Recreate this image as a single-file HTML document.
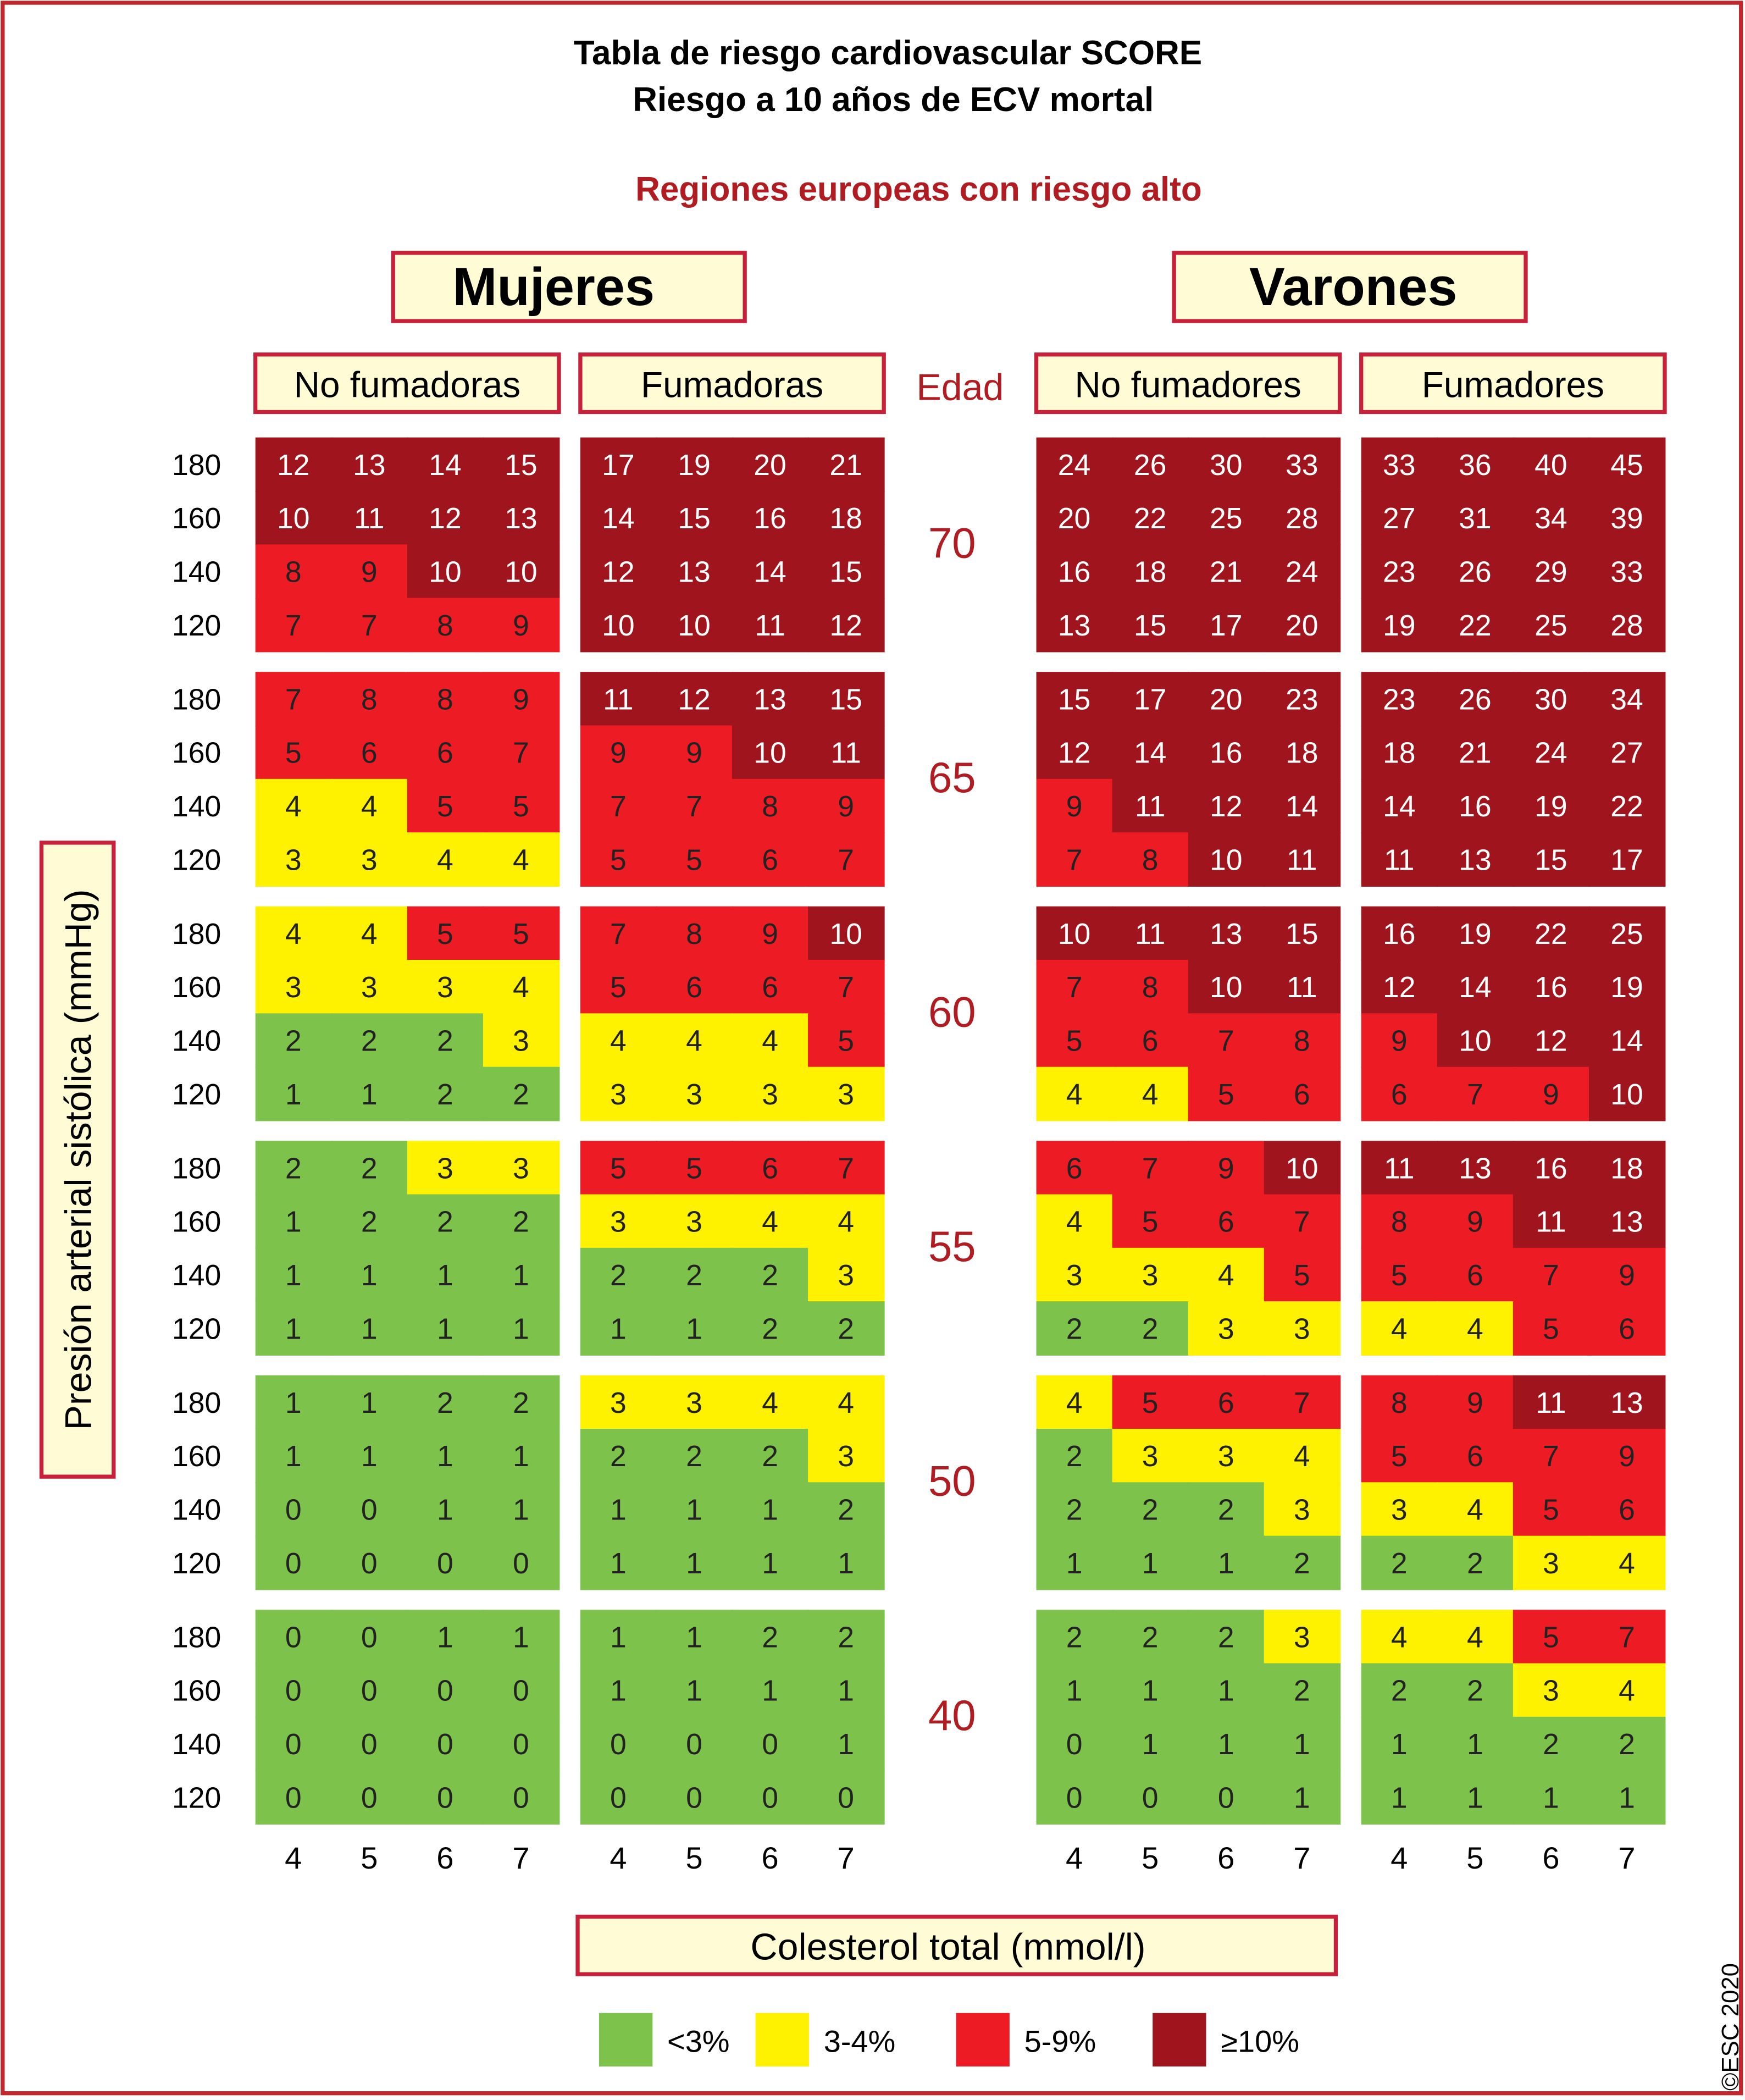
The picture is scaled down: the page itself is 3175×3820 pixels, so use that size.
<!DOCTYPE html>
<html><head><meta charset="utf-8"><style>
html,body{margin:0;padding:0;background:#fff;}
svg{display:block;}
text{font-family:"Liberation Sans","DejaVu Sans",sans-serif;}
</style></head><body>
<svg id="chart" width="3175" height="3820" viewBox="0 0 1305 1570" xmlns="http://www.w3.org/2000/svg">
<rect x="2" y="2" width="1300" height="1563" fill="#fff" stroke="#c0272d" stroke-width="3"/>
<text x="664" y="48" font-size="25.5" font-weight="bold" text-anchor="middle">Tabla de riesgo cardiovascular SCORE</text>
<text x="668" y="83" font-size="25.5" font-weight="bold" text-anchor="middle">Riesgo a 10 años de ECV mortal</text>
<text x="687" y="150" font-size="25.5" font-weight="bold" fill="#b01c22" text-anchor="middle">Regiones europeas con riesgo alto</text>
<rect x="294" y="189" width="263" height="51" fill="#fffbd5" stroke="#c8203a" stroke-width="3"/>
<text x="414" y="228" font-size="40" font-weight="bold" text-anchor="middle">Mujeres</text>
<rect x="878" y="189" width="263" height="51" fill="#fffbd5" stroke="#c8203a" stroke-width="3"/>
<text x="1012" y="228" font-size="40" font-weight="bold" text-anchor="middle">Varones</text>
<text x="718" y="299" font-size="28" fill="#b01c22" text-anchor="middle">Edad</text>
<rect x="31" y="630" width="54" height="474" fill="#fffbd5" stroke="#c8203a" stroke-width="3"/>
<text transform="translate(68,867) rotate(-90)" font-size="28" text-anchor="middle">Presión arterial sistólica (mmHg)</text>
<rect x="432" y="1433" width="567" height="43" fill="#fffbd5" stroke="#c8203a" stroke-width="3"/>
<text x="709" y="1465" font-size="28" text-anchor="middle">Colesterol total (mmol/l)</text>
<text transform="translate(1300,1563) rotate(-90)" font-size="18">©ESC 2020</text>
<g id="grid"></g>
</svg>
<script>
const ages=[70,65,60,55,50,40];
const sbpLabels=[180,160,140,120];
const cholLabels=[4,5,6,7];
const groupNames=["No fumadoras","Fumadoras","No fumadores","Fumadores"];
const womenNonSmoker=[
[[12,13,14,15],[10,11,12,13],[8,9,10,10],[7,7,8,9]],
[[7,8,8,9],[5,6,6,7],[4,4,5,5],[3,3,4,4]],
[[4,4,5,5],[3,3,3,4],[2,2,2,3],[1,1,2,2]],
[[2,2,3,3],[1,2,2,2],[1,1,1,1],[1,1,1,1]],
[[1,1,2,2],[1,1,1,1],[0,0,1,1],[0,0,0,0]],
[[0,0,1,1],[0,0,0,0],[0,0,0,0],[0,0,0,0]]];
const womenSmoker=[
[[17,19,20,21],[14,15,16,18],[12,13,14,15],[10,10,11,12]],
[[11,12,13,15],[9,9,10,11],[7,7,8,9],[5,5,6,7]],
[[7,8,9,10],[5,6,6,7],[4,4,4,5],[3,3,3,3]],
[[5,5,6,7],[3,3,4,4],[2,2,2,3],[1,1,2,2]],
[[3,3,4,4],[2,2,2,3],[1,1,1,2],[1,1,1,1]],
[[1,1,2,2],[1,1,1,1],[0,0,0,1],[0,0,0,0]]];
const menNonSmoker=[
[[24,26,30,33],[20,22,25,28],[16,18,21,24],[13,15,17,20]],
[[15,17,20,23],[12,14,16,18],[9,11,12,14],[7,8,10,11]],
[[10,11,13,15],[7,8,10,11],[5,6,7,8],[4,4,5,6]],
[[6,7,9,10],[4,5,6,7],[3,3,4,5],[2,2,3,3]],
[[4,5,6,7],[2,3,3,4],[2,2,2,3],[1,1,1,2]],
[[2,2,2,3],[1,1,1,2],[0,1,1,1],[0,0,0,1]]];
const menSmoker=[
[[33,36,40,45],[27,31,34,39],[23,26,29,33],[19,22,25,28]],
[[23,26,30,34],[18,21,24,27],[14,16,19,22],[11,13,15,17]],
[[16,19,22,25],[12,14,16,19],[9,10,12,14],[6,7,9,10]],
[[11,13,16,18],[8,9,11,13],[5,6,7,9],[4,4,5,6]],
[[8,9,11,13],[5,6,7,9],[3,4,5,6],[2,2,3,4]],
[[4,4,5,7],[2,2,3,4],[1,1,2,2],[1,1,1,1]]];
const legendLabels=["<3%","3-4%","5-9%","≥10%"];
const legendColors=["#7dc24b","#fff200","#ed1c24","#a0141e"];

const NS="http://www.w3.org/2000/svg";
const g=document.getElementById('grid');
const groups=[womenNonSmoker,womenSmoker,menNonSmoker,menSmoker];
const groupX=[191,434,775,1018];
const cellW=56.75, cellH=40, blockTop=327, blockStep=175.3;
function colX(gi,ci){return groupX[gi]+ci*cellW;}
function rowY(ai,ri){return blockTop+ai*blockStep+ri*cellH;}
function colorFor(v){return v<3?legendColors[0]:v<5?legendColors[1]:v<10?legendColors[2]:legendColors[3];}
function mk(tag,attrs,txt){const e=document.createElementNS(NS,tag);for(const k in attrs)e.setAttribute(k,attrs[k]);if(txt!==undefined)e.textContent=txt;g.appendChild(e);return e;}

groupNames.forEach((n,gi)=>{
  const b=mk('rect',{x:groupX[gi],y:265,width:227,height:43,fill:'#fffbd5',stroke:'#c8203a','stroke-width':3});
  
  
  const t=mk('text',{x:groupX[gi]+113.5,y:297,'font-size':27,'text-anchor':'middle'},n);
  
  
  cholLabels.forEach((c,ci)=>{
    const tl=mk('text',{x:colX(gi,ci)+cellW/2,y:1397,'font-size':23,'text-anchor':'middle'},c);
    
    
  });
});
ages.forEach((age,ai)=>{
  const at=mk('text',{x:712,y:rowY(ai,2)+10,'font-size':32,fill:'#b01c22','text-anchor':'middle'},age);
  
  
  sbpLabels.forEach((s,ri)=>{
    const st=mk('text',{x:147,y:rowY(ai,ri)+28,'font-size':22,'text-anchor':'middle'},s);
    
    
  });
  groups.forEach((data,gi)=>{
    data[ai].forEach((row,ri)=>{
      row.forEach((v,ci)=>{
        const r=mk('rect',{x:colX(gi,ci),y:rowY(ai,ri),width:cellW+0.6,height:cellH+0.6,fill:colorFor(v)});
        
        
        const t=mk('text',{x:colX(gi,ci)+cellW/2,y:rowY(ai,ri)+28,'font-size':22,'text-anchor':'middle',fill:v>=10?'#fff':'#222'},v);
        
        
      });
    });
  });
});
const legX=[448,565,715,862];
legendLabels.forEach((l,i)=>{
  const r=mk('rect',{x:legX[i],y:1505,width:40,height:40,fill:legendColors[i]});
  
  
  const t=mk('text',{x:legX[i]+51,y:1534,'font-size':23},l);
  
  
});
</script>
</body></html>
